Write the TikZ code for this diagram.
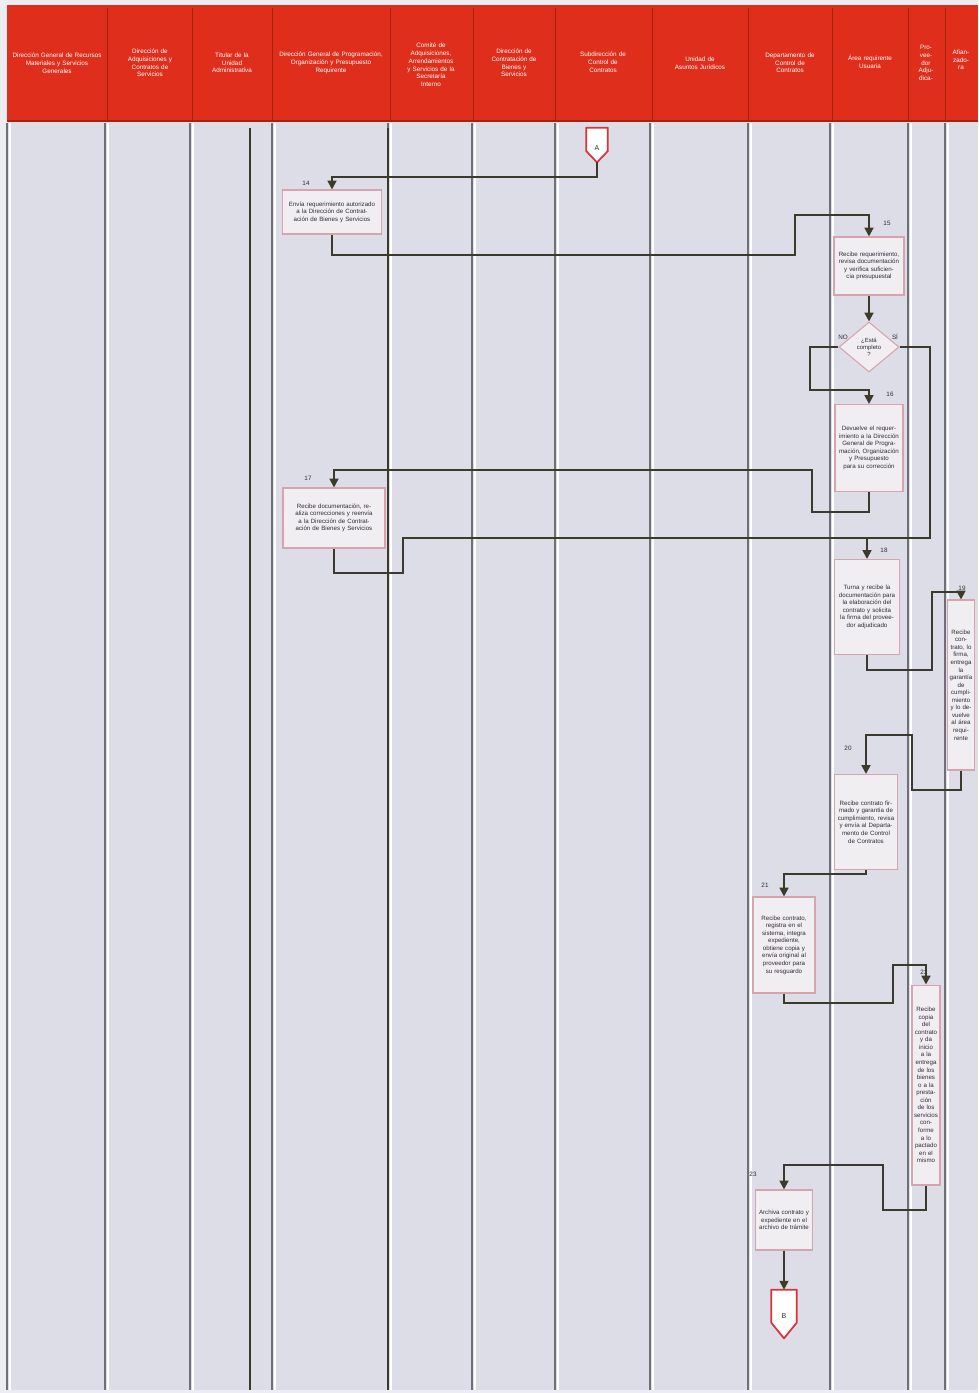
\documentclass[tikz,border=0pt]{standalone}
\usepackage{fontspec}
\setmainfont{Liberation Sans}
\usetikzlibrary{arrows.meta, shapes.geometric, calc}

\definecolor{rojo}{HTML}{DF2F1C}
\definecolor{rojoosc}{HTML}{A8210F}
\definecolor{fondo}{HTML}{ECECF2}
\definecolor{cuerpo}{HTML}{DCDDE7}
\definecolor{carril}{HTML}{6F6F7A}
\definecolor{caja}{HTML}{F1EEF2}
\definecolor{borde}{HTML}{D7A3AC}
\definecolor{texto}{HTML}{2E2E38}
\definecolor{linea}{HTML}{3B3A2B}
\definecolor{conector}{HTML}{D8353A}

\begin{document}
\begin{tikzpicture}[x=0.02cm, y=-0.02cm, >={Triangle[width=5pt, length=5pt]},
    head/.style={text=white, align=center, inner sep=0pt, font=\fontsize{3.6}{4.4}\selectfont},
    act/.style={rectangle, draw=borde, fill=caja, line width=0.6pt, align=center, text=texto, inner sep=1pt, font=\fontsize{3.5}{4.3}\selectfont},
    dec/.style={diamond, draw=borde, fill=caja, line width=0.6pt, align=center, text=texto, inner sep=0pt, font=\fontsize{3.4}{4.1}\selectfont},
    conn/.style={rectangle, draw=none, inner sep=0pt, text=texto, font=\fontsize{4}{4}\selectfont},
    conline/.style={draw=conector, fill=white, line width=1pt, line join=round},
    flow/.style={->, draw=linea, line width=1.1pt},
    route/.style={draw=linea, line width=1.1pt},
    num/.style={text=texto, inner sep=0pt, font=\fontsize{3.6}{4}\selectfont}]

    \useasboundingbox (0,0) rectangle (978,1393);
    \fill[fondo] (0,0) rectangle (978,1393);
    \fill[cuerpo] (7,122) rectangle (978,1390);
    \fill[rojo] (7,5) rectangle (978,122);
    \draw[rojoosc, line width=1.2pt] (7,121) -- (978,121);

    % carriles
    \foreach \x in {107,192,272,390,473,555,652,748,832,908,945}
        \draw[rojoosc, line width=0.5pt] (\x,8) -- (\x,120);
    \foreach \x in {7,105,190,272,388,472,555,650,748,830,908,945}
    {
        \draw[white, line width=0.8pt] (\x+3,123) -- (\x+3,1390);
        \draw[carril, line width=0.8pt] (\x,123) -- (\x,1390);
    }
    \draw[linea, line width=1pt] (250,128) -- (250,1390);
    \draw[linea, line width=0.8pt] (388,128) -- (388,1390);

    % encabezados
    \node[head, text width=1.8cm] (h1) at (57,63) {Dirección General de Recursos\\Materiales y Servicios\\Generales};
    \node[head, text width=1.5cm] (h2) at (150,63) {Dirección de\\Adquisiciones y\\Contratos de\\Servicios};
    \node[head, text width=1.4cm] (h3) at (232,63) {Titular de la\\Unidad\\Administrativa};
    \node[head, text width=2.2cm] (h4) at (331,63) {Dirección General de Programación,\\Organización y Presupuesto\\Requirente};
    \node[head, text width=1.5cm] (h5) at (431,65) {Comité de\\Adquisiciones,\\Arrendamientos\\y Servicios de la\\Secretaría\\Interno};
    \node[head, text width=1.5cm] (h6) at (514,63) {Dirección de\\Contratación de\\Bienes y\\Servicios};
    \node[head, text width=1.8cm] (h7) at (603,62) {Subdirección de\\Control de\\Contratos};
    \node[head, text width=1.8cm] (h8) at (700,63) {Unidad de\\Asuntos Jurídicos};
    \node[head, text width=1.5cm] (h9) at (790,63) {Departamento de\\Control de\\Contratos};
    \node[head, text width=1.4cm] (h10) at (870,62) {Área requirente\\Usuaria};
    \node[head, text width=0.7cm] (h11) at (926,63) {Pro-\\vee-\\dor\\Adju-\\dica-};
    \node[head, text width=0.6cm] (h12) at (961,60) {Afian-\\zado-\\ra};

    % actividades
    \node[conn, minimum width=0.42cm, minimum height=0.68cm] (ini) at (597,145) {};
    \draw[conline] (ini.north west) -- (ini.north east) -- ($(ini.east)!0.35!(ini.south east)$) -- (ini.south) -- ($(ini.west)!0.35!(ini.south west)$) -- cycle;
    \node[conn] at (597,148) {A};

    \node[act, minimum width=1.98cm, minimum height=0.88cm, text width=1.85cm] (a1) at (332,212) {Envía requerimiento autorizado a la Dirección de Contratación de Bienes y Servicios};
    \node[act, minimum width=1.4cm, minimum height=1.16cm, text width=1.28cm] (a2) at (869,266) {Recibe requerimiento, revisa documentación y verifica suficiencia presupuestal};
    \node[dec, minimum width=1.2cm, minimum height=1.0cm] (d1) at (869,347) {¿Está\\completo\\?};
    \node[act, minimum width=1.36cm, minimum height=1.74cm, text width=1.24cm] (a3) at (869,448) {Devuelve el requerimiento a la Dirección General de Programación, Organización y Presupuesto para su corrección};
    \node[act, minimum width=2.04cm, minimum height=1.2cm, text width=1.9cm] (a4) at (334,518) {Recibe documentación, realiza correcciones y reenvía a la Dirección de Contratación de Bienes y Servicios};
    \node[act, minimum width=1.3cm, minimum height=1.9cm, text width=1.18cm] (a5) at (867,607) {Turna y recibe la documentación para la elaboración del contrato y solicita la firma del proveedor adjudicado};
    \node[act, minimum width=0.54cm, minimum height=3.4cm, text width=0.46cm] (a6) at (961,685) {Recibe contrato, lo firma, entrega la garantía de cumpli\-miento y lo devuelve al área requi\-rente};
    \node[act, minimum width=1.26cm, minimum height=1.9cm, text width=1.14cm] (a7) at (866,822) {Recibe contrato firmado y garantía de cumplimiento, revisa y envía al Departamento de Control de Contratos};
    \node[act, minimum width=1.24cm, minimum height=1.92cm, text width=1.12cm] (a8) at (784,945) {Recibe contrato, registra en el sistema, integra expediente, obtiene copia y envía original al proveedor para su resguardo};
    \node[act, minimum width=0.56cm, minimum height=4.0cm, text width=0.48cm] (a9) at (926,1085) {Recibe copia del contrato y da inicio a la entrega de los bienes o a la presta\-ción de los servicios conforme a lo pactado en el mismo};
    \node[act, minimum width=1.14cm, minimum height=1.2cm, text width=1.02cm] (a10) at (784,1220) {Archiva contrato y expediente en el archivo de trámite};

    \node[conn, minimum width=0.5cm, minimum height=0.96cm] (fin) at (784,1314) {};
    \draw[conline] (fin.north west) -- (fin.north east) -- ($(fin.east)!0.35!(fin.south east)$) -- (fin.south) -- ($(fin.west)!0.35!(fin.south west)$) -- cycle;
    \node[conn] at (784,1316) {B};

    % numeros
    \node[num] (n1) at (306,183) {14};
    \node[num] (n2) at (887,223) {15};
    \node[num] (n3) at (843,337) {NO};
    \node[num] (n4) at (895,337) {SÍ};
    \node[num] (n5) at (890,394) {16};
    \node[num] (n6) at (308,478) {17};
    \node[num] (n7) at (884,550) {18};
    \node[num] (n8) at (962,588) {19};
    \node[num] (n9) at (848,748) {20};
    \node[num] (n10) at (765,885) {21};
    \node[num] (n11) at (924,972) {22};
    \node[num] (n12) at (753,1174) {23};

    % puntos de paso
    \coordinate (w1) at (795,255);
    \coordinate (w2) at (795,215);
    \coordinate (w3) at (810,390);
    \coordinate (w4) at (930,538);
    \coordinate (w5) at (403,573);
    \coordinate (w6) at (867,538);
    \coordinate (w7) at (812,512);
    \coordinate (w8) at (812,470);
    \coordinate (w9) at (932,670);
    \coordinate (w10) at (932,592);
    \coordinate (w11) at (912,790);
    \coordinate (w12) at (912,735);
    \coordinate (w13) at (866,874);
    \coordinate (w14) at (893,1003);
    \coordinate (w15) at (893,965);
    \coordinate (w16) at (883,1210);
    \coordinate (w17) at (883,1165);

    % conexiones
    \draw[flow] (ini.south) -- ++(0,15) -| (a1.north);
    \draw[flow] (a1.south) |- (w1) -- (w2) -| (a2.north);
    \draw[flow] (a2.south) -- (d1.north);
    \draw[flow] (d1.west) -| (w3) -| (a3.north);
    \draw[route] (d1.east) -| (w4) -- (w6);
    \draw[flow] (a3.south) |- (w7) -- (w8) -| (a4.north);
    \draw[flow] (a4.south) |- (w5) |- (w6) -- (a5.north);
    \draw[flow] (a5.south) |- (w9) -- (w10) -| (a6.north);
    \draw[flow] (a6.south) |- (w11) -- (w12) -| (a7.north);
    \draw[flow] (a7.south) -- (w13) -| (a8.north);
    \draw[flow] (a8.south) |- (w14) -- (w15) -| (a9.north);
    \draw[flow] (a9.south) |- (w16) -- (w17) -| (a10.north);
    \draw[flow] (a10.south) -- (fin.north);
\end{tikzpicture}
\end{document}
